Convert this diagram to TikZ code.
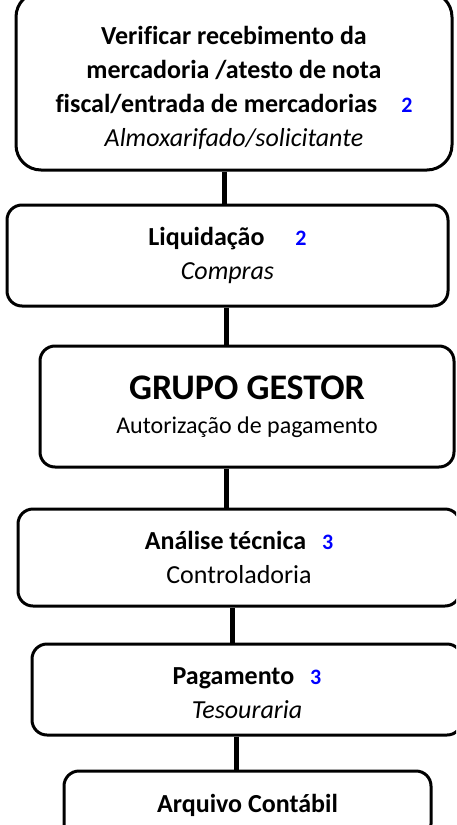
\documentclass[tikz,border=0pt]{standalone}
\usepackage{fontspec}
\setmainfont[Ligatures=NoCommon]{Carlito}
\newcommand\etapa[1]{{\color{blue}\fontsize{22}{22}\selectfont\bfseries #1}}
\begin{document}
\begin{tikzpicture}[x=1pt,y=-1pt,
	box/.style={draw=black,line width=3pt,rounded corners=15pt,align=center,inner sep=0pt,font=\fontsize{26}{34}\selectfont},
	link/.style={draw=black,line width=5pt}]
\useasboundingbox (0,0) rectangle (456,825);
\clip (0,0) rectangle (456,825);

\node (b1) at (234,81) [box,rounded corners=25pt,minimum width=436pt,minimum height=178pt]
	{\rule{0pt}{32pt}\textbf{Verificar recebimento da}\\ \textbf{mercadoria /atesto de nota}\\
	\textbf{fiscal/entrada de mercadorias}\hspace{24pt}\etapa{2}\\ \textit{Almoxarifado/solicitante}};
\node (b2) at (227.5,255.5) [box,minimum width=441pt,minimum height=101pt]
	{\textbf{Liquidação}\hspace{31pt}\etapa{2}\\ \textit{Compras}};
\node (b3) at (247,406.5) [box,minimum width=414pt,minimum height=121pt]
	{{\fontsize{36}{40}\selectfont\bfseries GRUPO GESTOR}\\ {\fontsize{24}{34}\selectfont Autorização de pagamento}};
\node (b4) at (239,557.5) [box,minimum width=442pt,minimum height=97pt]
	{\textbf{Análise técnica}\hspace{16pt}\etapa{3}\\ Controladoria};
\node (b5) at (247,689.5) [box,minimum width=430pt,minimum height=91pt]
	{\rule{0pt}{25pt}\textbf{Pagamento}\hspace{16pt}\etapa{3}\\ \textit{Tesouraria}};
\node (b6) at (247.5,805) [box,minimum width=367pt,minimum height=68pt]
	{\textbf{Arquivo Contábil}};

\foreach \a/\b/\x in {b1/b2/224,b2/b3/226,b3/b4/226,b4/b5/232,b5/b6/236}
{
	\draw[link] (\a.south -| \x,0) -- (\b.north -| \x,0);
}
\end{tikzpicture}
\end{document}
